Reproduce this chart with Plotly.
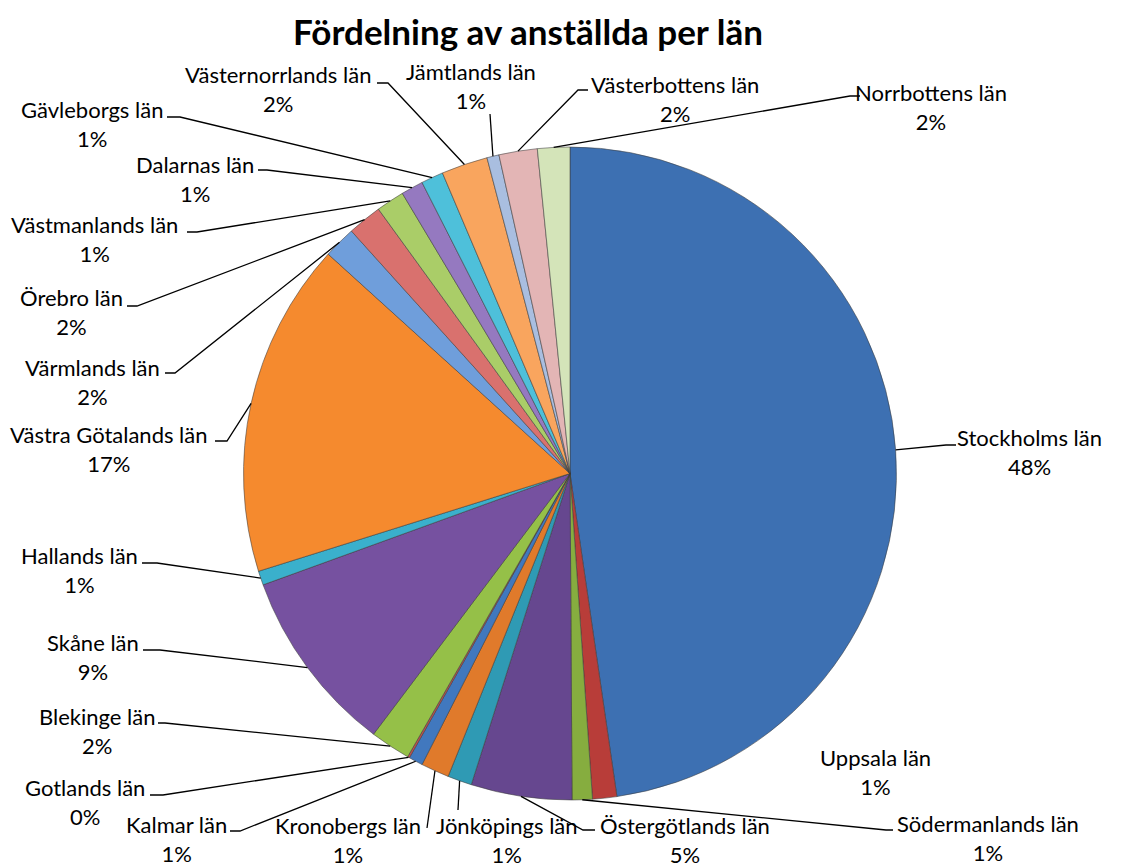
import math
import plotly.graph_objects as go

# Employees per county (län), clockwise from 12 o'clock
counties = [
    "Stockholms län", "Uppsala län", "Södermanlands län", "Östergötlands län",
    "Jönköpings län", "Kronobergs län", "Kalmar län", "Gotlands län",
    "Blekinge län", "Skåne län", "Hallands län", "Västra Götalands län",
    "Värmlands län", "Örebro län", "Västmanlands län", "Dalarnas län",
    "Gävleborgs län", "Västernorrlands län", "Jämtlands län",
    "Västerbottens län", "Norrbottens län",
]
employees = [478, 12, 10, 50, 12, 14, 7, 1, 20, 92, 7, 166, 16, 17, 14, 11, 11, 23, 6, 19, 16]

colors = [
    "#3D70B2", "#B83D39", "#86AD3F", "#66478F", "#2F9AB4", "#E07A2B",
    "#4178BE", "#C0504D", "#95C048", "#7651A0", "#3AB0CC", "#F58A2E",
    "#6F9EDB", "#D9716E", "#AACD68", "#9579C0", "#4EC0DA", "#F9A55E",
    "#A9BEE0", "#E3B5B5", "#D4E4B9",
]

W, H = 1131, 868
CX, CY, R = 570.0, 473.5, 326.5   # pie centre / radius in pixels

# label placement: text centre x, first-line centre y
label_pos = [
    (1029, 438), (875, 758), (988, 824), (685, 826), (507, 826), (348, 826),
    (176, 825), (85, 788), (97, 717), (93, 643), (79, 556), (109, 435),
    (92, 368), (71, 298), (95, 225), (195, 165), (92, 110), (278, 75),
    (471, 72), (675, 85), (931, 93),
]
# leader elbow point and end of the short horizontal tick (None = no tick / no leader)
leader = [
    (946, 445, 956), None, (886, 830, 893), (583, 830, 595), (458, 810, None),
    (427, 828, None), (240, 831, 230), (163, 795, 150), (165, 723, 158),
    (160, 650, 143), (157, 563, 142), (227, 441, 215), (175, 373, 165),
    (137, 306, 127), (197, 232, 187), (267, 170, 258), (180, 117, 167),
    (388, 83, 377), (490, 114, None), (578, 90, 588), (850, 96, 860),
]


def px(x):
    return x / W


def py(y):
    return 1 - y / H


fig = go.Figure(go.Pie(
    labels=counties,
    values=employees,
    sort=False,
    direction="clockwise",
    rotation=0,
    textinfo="none",
    hoverinfo="label+value+percent",
    marker=dict(colors=colors, line=dict(color="rgba(60,60,60,0.55)", width=1)),
    domain=dict(x=[px(CX - R), px(CX + R)], y=[py(CY + R), py(CY - R)]),
    showlegend=False,
))

total = sum(employees)
shapes = []
annotations = []
cum = 0.0
for name, v, pos, ld in zip(counties, employees, label_pos, leader):
    mid = (cum + v / 2) / total * 2 * math.pi
    cum += v
    ex = CX + R * math.sin(mid)
    ey = CY - R * math.cos(mid)
    pct = round(100 * v / total)
    annotations.append(dict(
        x=px(pos[0]), y=py(pos[1] + 14), xref="paper", yref="paper",
        text=f"{name}<br>{pct}%", showarrow=False, align="center",
        xanchor="center", yanchor="middle",
        font=dict(family="Lato", size=22, color="#000000"),
    ))
    if ld is None:
        continue
    bx, by, tx = ld
    path = f"M {px(ex)},{py(ey)} L {px(bx)},{py(by)}"
    if tx is not None:
        path += f" L {px(tx)},{py(by)}"
    shapes.append(dict(type="path", path=path, xref="paper", yref="paper",
                       line=dict(color="#000000", width=1.3)))

fig.update_layout(
    width=W, height=H,
    margin=dict(l=0, r=0, t=0, b=0),
    paper_bgcolor="white", plot_bgcolor="white",
    title=dict(text="<b>Fördelning av anställda per län</b>", x=528 / W, y=py(33),
               xanchor="center", yanchor="middle",
               font=dict(family="Lato", size=35, color="#000000")),
    shapes=shapes,
    annotations=annotations,
)

fig.write_html("out.html")
